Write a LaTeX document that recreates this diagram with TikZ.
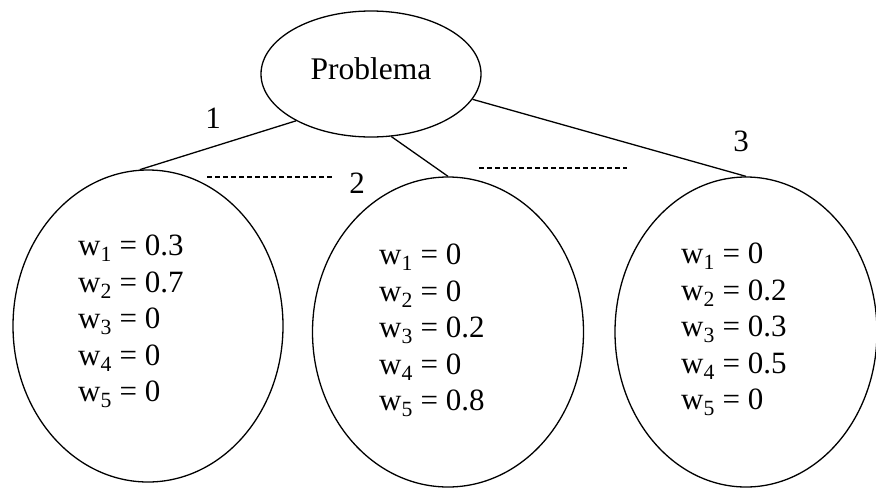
\documentclass[tikz,border=0pt]{standalone}
\usepackage{fontspec}
\setmainfont{Liberation Serif}
\usetikzlibrary{shapes.geometric}
\begin{document}
\begin{tikzpicture}[x=1pt,y=-1pt,
  oval/.style={draw,ellipse,line width=1.3pt,inner sep=0pt},
  big/.style={font=\fontsize{31}{36.5}\selectfont},
  wlist/.style={big,align=left,anchor=north west,inner sep=0pt},
  edge/.style={line width=1.3pt},
  gap/.style={line width=1.3pt,dash pattern=on 5pt off 3pt}]
\useasboundingbox (0,0) rectangle (876,488);
\node[oval,minimum width=220pt,minimum height=126pt,font=\fontsize{31.5}{36}\selectfont] (top) at (371,74) {\raisebox{10pt}{Problema}};
\node[oval,minimum width=270pt,minimum height=312pt] (left) at (148,326) {};
\node[oval,minimum width=271pt,minimum height=310pt] (mid) at (448,332) {};
\node[oval,minimum width=262pt,minimum height=310pt] (right) at (746,332) {};
\node[wlist] (tl) at (78,235) {w\textsubscript{1} = 0.3\\w\textsubscript{2} = 0.7\\w\textsubscript{3} = 0\\w\textsubscript{4} = 0\\w\textsubscript{5} = 0};
\node[wlist] (tm) at (379,244) {w\textsubscript{1} = 0\\w\textsubscript{2} = 0\\w\textsubscript{3} = 0.2\\w\textsubscript{4} = 0\\w\textsubscript{5} = 0.8};
\node[wlist] (tr) at (681,243) {w\textsubscript{1} = 0\\w\textsubscript{2} = 0.2\\w\textsubscript{3} = 0.3\\w\textsubscript{4} = 0.5\\w\textsubscript{5} = 0};
\draw[edge] (top.212) -- (left.93);
\draw[edge] (top.288) -- (mid.90);
\draw[edge] (top.346) -- (right.90);
\coordinate (d1a) at (207,177);
\coordinate (d1b) at (332,177);
\coordinate (d2a) at (479,168);
\coordinate (d2b) at (627,168);
\draw[gap] (d1a) -- (d1b);
\draw[gap] (d2a) -- (d2b);
\node[big] (l1) at (213,118) {1};
\node[big] (l2) at (357,183) {2};
\node[big] (l3) at (741,141) {3};
\end{tikzpicture}
\end{document}
